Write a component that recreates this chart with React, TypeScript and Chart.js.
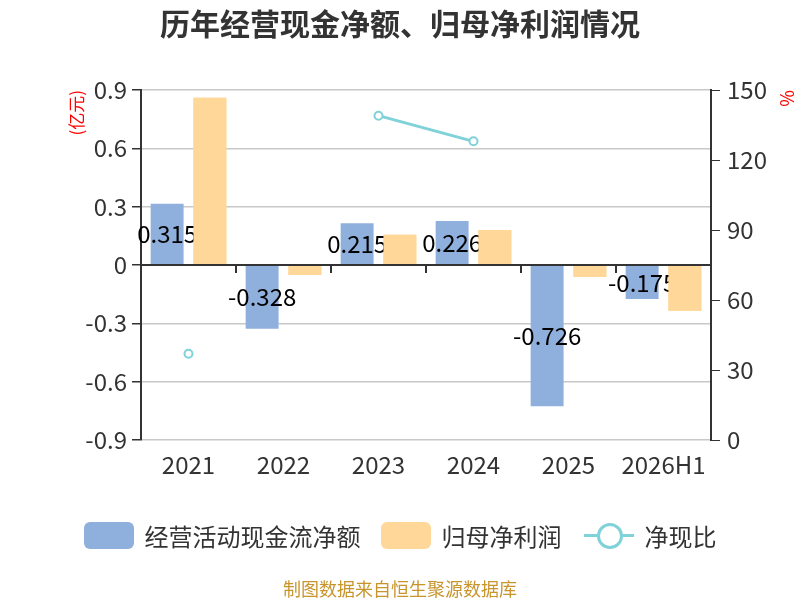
import { JSX, useEffect, useRef } from 'react';
import Chart from 'chart.js/auto';
import { ChartConfiguration, Plugin } from 'chart.js';

const FONT = '"Noto Sans CJK SC", "Noto Sans", sans-serif';

const years: string[] = ['2021', '2022', '2023', '2024', '2025', '2026H1'];
const operatingCash: number[] = [0.315, -0.328, 0.215, 0.226, -0.726, -0.175];
const netProfit: number[] = [0.86, -0.052, 0.155, 0.18, -0.062, -0.235];
const cashRatio: (number | null)[] = [37, null, 139, 128, null, null];

const BLUE = '#8fafdc';
const ORANGE = '#ffd899';
const TEAL = '#80d2d9';

// labels for the cash bars sit between the blue and orange bars,
// then the orange bars are painted again so they cover the overflow
const overlayPlugin: Plugin = {
  id: 'overlay',
  afterDatasetDraw(chart, args) {
    if (args.index !== 0) return;
    const ctx = chart.ctx;
    const meta = chart.getDatasetMeta(0);
    ctx.save();
    ctx.font = `24px ${FONT}`;
    ctx.fillStyle = '#000';
    ctx.textAlign = 'center';
    ctx.textBaseline = 'middle';
    meta.data.forEach((bar, i) => {
      const { x, y, base } = bar.getProps(['x', 'y', 'base'], true) as any;
      ctx.fillText(String(operatingCash[i]), x, (y + base) / 2);
    });
    ctx.restore();
    chart.getDatasetMeta(1).data.forEach((el) => el.draw(ctx));
  },
  afterDatasetsDraw(chart) {
    const ctx = chart.ctx;
    const xs = chart.scales.x;
    const y0 = chart.scales.y.getPixelForValue(0);
    const { left, right } = chart.chartArea;
    ctx.save();
    ctx.strokeStyle = '#333';
    ctx.lineWidth = 2;
    ctx.beginPath();
    ctx.moveTo(left, y0);
    ctx.lineTo(right, y0);
    for (let i = 1; i < years.length; i++) {
      const bx = Math.round((xs.getPixelForTick(i - 1) + xs.getPixelForTick(i)) / 2);
      ctx.moveTo(bx, y0);
      ctx.lineTo(bx, y0 + 8);
    }
    ctx.stroke();
    ctx.restore();
  },
};

export default function App(): JSX.Element {
  const chartRef = useRef<HTMLCanvasElement | null>(null);
  const chartInstance = useRef<Chart | null>(null);

  useEffect(() => {
    if (chartInstance.current) {
      chartInstance.current.destroy();
    }
    if (!chartRef.current) return;
    const ctx = chartRef.current.getContext('2d');
    if (!ctx) return;

    Chart.defaults.font.family = FONT;

    const config: ChartConfiguration = {
      type: 'bar',
      data: {
        labels: years,
        datasets: [
          {
            type: 'bar',
            label: '经营活动现金流净额',
            data: operatingCash,
            backgroundColor: BLUE,
            yAxisID: 'y',
            barPercentage: 0.77,
            categoryPercentage: 0.9,
          },
          {
            type: 'bar',
            label: '归母净利润',
            data: netProfit,
            backgroundColor: ORANGE,
            yAxisID: 'y',
            barPercentage: 0.77,
            categoryPercentage: 0.9,
          },
          {
            type: 'line',
            label: '净现比',
            data: cashRatio,
            yAxisID: 'y1',
            borderColor: TEAL,
            borderWidth: 3,
            pointRadius: 4,
            pointBorderWidth: 2,
            pointBackgroundColor: '#fff',
            pointBorderColor: TEAL,
            spanGaps: false,
            order: -1,
          },
        ],
      },
      options: {
        responsive: true,
        maintainAspectRatio: false,
        animation: false,
        layout: { padding: { top: 90, bottom: 120, left: 0, right: 0 } },
        plugins: {
          legend: { display: false },
          title: { display: false },
          tooltip: { enabled: false },
        },
        scales: {
          x: {
            offset: true,
            grid: { display: false, drawTicks: false },
            border: { display: false },
            ticks: { color: '#333', font: { size: 24 }, padding: 10 },
            afterFit: (scale) => {
              scale.height = 40;
            },
          },
          y: {
            position: 'left',
            min: -0.9,
            max: 0.9,
            ticks: {
              stepSize: 0.3,
              color: '#333',
              font: { size: 24 },
              padding: 5,
              callback: (v) => String(Math.round(Number(v) * 10) / 10),
            },
            grid: { color: '#c8c8c8', lineWidth: 1.5, tickColor: '#333', tickLength: 9 },
            border: { color: '#333', width: 2 },
            title: {
              display: true,
              text: '(亿元)',
              color: '#ff0000',
              font: { size: 17 },
              align: 'end',
              padding: { top: 66, bottom: 0 },
            },
            afterFit: (scale) => {
              scale.width = 141;
            },
          },
          y1: {
            position: 'right',
            min: 0,
            max: 150,
            ticks: { stepSize: 30, color: '#333', font: { size: 24 }, padding: 7 },
            grid: { drawOnChartArea: false, tickColor: '#333', tickLength: 9 },
            border: { color: '#333', width: 2 },
            title: {
              display: true,
              text: '%',
              color: '#ff0000',
              font: { size: 18 },
              align: 'end',
              padding: { top: 2, bottom: 0 },
            },
            afterFit: (scale) => {
              scale.width = 89;
            },
          },
        },
      },
      plugins: [overlayPlugin],
    };

    chartInstance.current = new Chart(ctx, config);

    return () => {
      if (chartInstance.current) {
        chartInstance.current.destroy();
        chartInstance.current = null;
      }
    };
  }, []);

  const legendText: React.CSSProperties = { fontSize: 24, color: '#333', marginLeft: 11 };
  const box = (color: string): React.CSSProperties => ({
    width: 50,
    height: 27,
    borderRadius: 6,
    background: color,
  });

  return (
    <div style={{ position: 'fixed', left: 0, top: 0, width: 800, height: 600, background: '#fff', fontFamily: FONT }}>
      <div style={{ position: 'absolute', left: 0, top: 0, width: 800, height: 600 }}>
        <canvas ref={chartRef} />
      </div>
      <div
        style={{
          position: 'absolute',
          top: 2,
          left: 0,
          width: 800,
          textAlign: 'center',
          fontSize: 30,
          fontWeight: 'bold',
          color: '#333',
          lineHeight: '40px',
        }}
      >
        历年经营现金净额、归母净利润情况
      </div>
      <div
        style={{
          position: 'absolute',
          top: 515,
          left: 0,
          width: 800,
          height: 40,
          display: 'flex',
          justifyContent: 'center',
          alignItems: 'center',
        }}
      >
        <div style={box(BLUE)} />
        <span style={legendText}>经营活动现金流净额</span>
        <div style={{ ...box(ORANGE), marginLeft: 20 }} />
        <span style={legendText}>归母净利润</span>
        <div style={{ position: 'relative', width: 50, height: 27, marginLeft: 22 }}>
          <div style={{ position: 'absolute', left: 0, top: 12, width: 50, height: 3, background: TEAL }} />
          <div
            style={{
              position: 'absolute',
              left: 13,
              top: 1,
              width: 20,
              height: 20,
              borderRadius: '50%',
              border: `3px solid ${TEAL}`,
              background: '#fff',
            }}
          />
        </div>
        <span style={legendText}>净现比</span>
      </div>
      <div
        style={{
          position: 'absolute',
          top: 576,
          left: 0,
          width: 800,
          textAlign: 'center',
          fontSize: 18,
          color: '#c8952c',
          lineHeight: '24px',
        }}
      >
        制图数据来自恒生聚源数据库
      </div>
    </div>
  );
}
